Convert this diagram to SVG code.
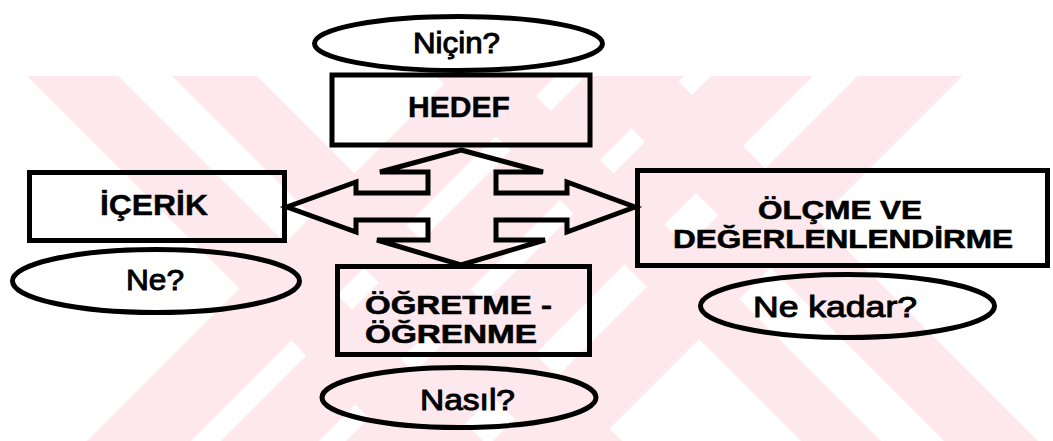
<svg xmlns="http://www.w3.org/2000/svg" width="1053" height="441" viewBox="0 0 1053 441">
  <style>
    .shape { fill: none; stroke: #000; stroke-width: 5; stroke-linejoin: miter; }
    .bold { font-family: "Liberation Sans", Arial, sans-serif; font-weight: bold; font-size: 30px; fill: #000; stroke: #000; stroke-width: 0.4; }
    .bold2 { font-family: "Liberation Sans", Arial, sans-serif; font-weight: bold; font-size: 26px; fill: #000; stroke: #000; stroke-width: 0.6; }
    .reg { font-family: "Liberation Sans", Arial, sans-serif; font-weight: normal; font-size: 30px; fill: #000; stroke: #000; stroke-width: 1; }
    .wm { fill: #fce8ed; }
  </style>
  <defs>
    <clipPath id="wmclip"><rect x="0" y="76" width="1053" height="365"/></clipPath>
  </defs>
  <rect x="0" y="0" width="1053" height="441" fill="#fff"/>
  <g id="watermark" clip-path="url(#wmclip)">
    <polygon class="wm" points="27,76 118,76 483,441 392,441"/>
    <polygon class="wm" points="172,76 257,76 622,441 537,441"/>
    <polygon class="wm" points="452,76 556,76 191,441 87,441"/>
    <polygon class="wm" points="586,76 684,76 319,441 221,441"/>
    <polygon class="wm" points="711,76 813,76 448,441 346,441"/>
    <polygon class="wm" points="858,76 962,76 597,441 493,441"/>
    <polygon class="wm" points="436,76 516,76 881,441 801,441"/>
    <polygon class="wm" points="579,76 673,76 1038,441 944,441"/>
  </g>
  <g id="connectors">
    <path id="quad-arrow" class="shape" d="M461,150 L543,172 L496,172 L496,193 L567,193 L567,182 L635,207 L567,232 L567,220 L496,220 L496,240 L545,240 L461,265 L377,240 L428,240 L428,220 L356,220 L356,232 L287,207 L356,182 L356,193 L428,193 L428,172 L380,172 Z"/>
  </g>
  <g id="node-nicin">
    <ellipse class="shape" cx="458.5" cy="43.5" rx="144" ry="27"/>
    <text class="reg" x="456.5" y="53" text-anchor="middle" textLength="87" lengthAdjust="spacingAndGlyphs">Niçin?</text>
  </g>
  <g id="node-hedef">
    <rect class="shape" x="332" y="75" width="258" height="70"/>
    <text class="bold" x="459" y="117" text-anchor="middle" textLength="102" lengthAdjust="spacingAndGlyphs">HEDEF</text>
  </g>
  <g id="node-icerik">
    <rect class="shape" x="29.5" y="172.5" width="255" height="68"/>
    <text class="bold" x="154" y="215" text-anchor="middle" textLength="108" lengthAdjust="spacingAndGlyphs">İÇERİK</text>
  </g>
  <g id="node-ne">
    <ellipse class="shape" cx="156" cy="281" rx="143.5" ry="31.5"/>
    <text class="reg" x="155" y="290" text-anchor="middle" textLength="58" lengthAdjust="spacingAndGlyphs">Ne?</text>
  </g>
  <g id="node-olcme">
    <rect class="shape" x="637.5" y="170.5" width="410" height="95"/>
    <text class="bold2" text-anchor="middle"><tspan x="840" y="219" textLength="164" lengthAdjust="spacingAndGlyphs">ÖLÇME VE</tspan><tspan x="843" y="248" textLength="340" lengthAdjust="spacingAndGlyphs">DEĞERLENLENDİRME</tspan></text>
  </g>
  <g id="node-nekadar">
    <ellipse class="shape" cx="847.5" cy="306" rx="147" ry="31.5"/>
    <text class="reg" x="835" y="317" text-anchor="middle" textLength="164" lengthAdjust="spacingAndGlyphs">Ne kadar?</text>
  </g>
  <g id="node-ogretme">
    <rect class="shape" x="337.5" y="266.5" width="252" height="88"/>
    <text class="bold2"><tspan x="365" y="314" textLength="187" lengthAdjust="spacingAndGlyphs">ÖĞRETME -</tspan><tspan x="365" y="343" textLength="172" lengthAdjust="spacingAndGlyphs">ÖĞRENME</tspan></text>
  </g>
  <g id="node-nasil">
    <ellipse class="shape" cx="459" cy="397.5" rx="137" ry="30"/>
    <text class="reg" x="467.5" y="410" text-anchor="middle" textLength="95" lengthAdjust="spacingAndGlyphs">Nasıl?</text>
  </g>
</svg>
